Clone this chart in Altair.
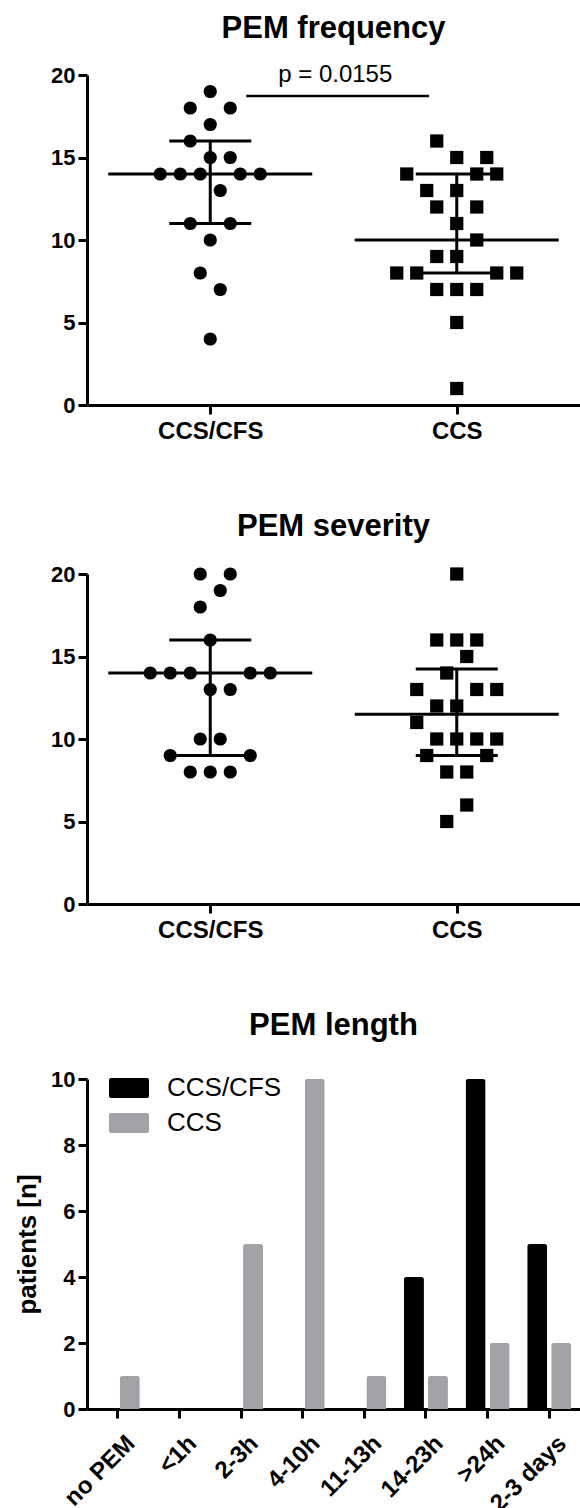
import altair as alt
import numpy as np
import pandas as pd

FONT = "Liberation Sans"

# ---------------- data ----------------
groups = ["CCS/CFS", "CCS"]

# PEM frequency (value, swarm slot in the beeswarm column)
freq_ccscfs_values = [19, 18, 18, 17, 16, 15, 15, 14, 14, 14, 14, 14, 13, 11, 11, 10, 8, 7, 4]
freq_ccscfs_slots = [0, -2, 2, 0, -2, 0, 2, -5, -3, -1, 3, 5, 1, -2, 2, 0, -1, 1, 0]
freq_ccs_values = [16, 15, 15, 14, 14, 14, 13, 13, 12, 12, 11, 10, 9, 9, 8, 8, 8, 8, 7, 7, 7, 5, 1]
freq_ccs_slots = [-2, 0, 3, -5, 2, 4, -3, 0, -2, 2, 0, 2, -2, 0, -6, -4, 4, 6, -2, 0, 2, 0, 0]
freq_p_text = "p = 0.0155"

# PEM severity
sev_ccscfs_values = [20, 20, 19, 18, 16, 14, 14, 14, 14, 14, 13, 13, 10, 10, 9, 9, 8, 8, 8]
sev_ccscfs_slots = [-1, 2, 1, -1, 0, -6, -4, -2, 4, 6, 0, 2, -1, 1, -4, 4, -2, 0, 2]
sev_ccs_values = [20, 16, 16, 16, 15, 14, 13, 13, 13, 12, 12, 11, 10, 10, 10, 10, 9, 9, 8, 8, 6, 5]
sev_ccs_slots = [0, -2, 0, 2, 1, -1, -4, 2, 4, -2, 0, -4, -2, 0, 2, 4, -3, 3, -1, 1, 1, -1]

# PEM length
length_categories = ["no PEM", "<1h", "2-3h", "4-10h", "11-13h", "14-23h", ">24h", "2-3 days"]
length_ccscfs = [0, 0, 0, 0, 0, 4, 10, 5]
length_ccs = [1, 0, 5, 10, 1, 1, 2, 2]

# ---------------- layout constants ----------------
PLOT_W = 493
PLOT_H = 330
UNIT_PX = PLOT_W / 2.0          # px per group unit on the scatter x scale
SLOT = 10 / UNIT_PX             # one swarm slot = 10 px
MED_HALF = 102 / UNIT_PX
CAP_HALF = 41 / UNIT_PX
TITLE_SIZE = 31
SWATCH = ("M-0.9,-0.5H0.9Q1,-0.5 1,-0.4V0.4Q1,0.5 0.9,0.5H-0.9"
          "Q-1,0.5 -1,0.4V-0.4Q-1,-0.5 -0.9,-0.5Z")


def swarm_df(va, sa, vb, sb):
    rows = []
    for gi, (vals, slots) in enumerate(((va, sa), (vb, sb))):
        for v, s in zip(vals, slots):
            rows.append({"group": groups[gi], "value": v, "xpos": gi + s * SLOT})
    return pd.DataFrame(rows)


def summary_df(va, vb):
    rows = []
    for gi, vals in enumerate((va, vb)):
        q1, med, q3 = np.percentile(vals, [25, 50, 75], method="weibull")
        rows.append({"x": gi - MED_HALF, "x2": gi + MED_HALF, "y": med, "y2": med})
        rows.append({"x": gi - CAP_HALF, "x2": gi + CAP_HALF, "y": q1, "y2": q1})
        rows.append({"x": gi - CAP_HALF, "x2": gi + CAP_HALF, "y": q3, "y2": q3})
        rows.append({"x": gi, "x2": gi, "y": q1, "y2": q3})
    return pd.DataFrame(rows)


def xenc(field):
    return alt.X(
        field,
        type="quantitative",
        scale=alt.Scale(domain=[-0.5, 1.5], nice=False, zero=False),
        axis=alt.Axis(
            values=[0, 1],
            labelExpr="datum.value == 0 ? 'CCS/CFS' : 'CCS'",
            title=None,
            tickSize=9,
            labelPadding=5,
            labelFontSize=24,
            labelFontWeight="bold",
            labelFlush=False,
        ),
    )


def yenc(field):
    return alt.Y(
        field,
        type="quantitative",
        scale=alt.Scale(domain=[0, 20], nice=False),
        axis=alt.Axis(
            values=[0, 5, 10, 15, 20],
            title=None,
            tickSize=9,
            labelPadding=3,
            labelFontSize=22,
            labelFontWeight="bold",
        ),
    )


def scatter_panel(title, va, sa, vb, sb, title_offset, p_text=None):
    pts = alt.Chart(swarm_df(va, sa, vb, sb)).mark_point(
        filled=True, size=175, opacity=1, color="black", strokeWidth=0
    ).encode(
        x=xenc("xpos"),
        y=yenc("value"),
        shape=alt.Shape(
            "group:N",
            scale=alt.Scale(domain=groups, range=["circle", "square"]),
            legend=None,
        ),
    )
    rules = alt.Chart(summary_df(va, vb)).mark_rule(color="black", strokeWidth=3).encode(
        x=xenc("x"), x2="x2", y=yenc("y"), y2="y2"
    )
    layers = [rules, pts]
    if p_text is not None:
        bracket = alt.Chart(pd.DataFrame([{"x": 0.146, "x2": 0.888, "y": 18.73}])).mark_rule(
            color="black", strokeWidth=2.5
        ).encode(x=xenc("x"), x2="x2", y=yenc("y"))
        ptxt = alt.Chart(pd.DataFrame([{"x": 0.507, "y": 19.6, "label": p_text}])).mark_text(
            font=FONT, fontSize=24, baseline="alphabetic", align="center", color="black"
        ).encode(x=xenc("x"), y=yenc("y"), text="label:N")
        layers += [bracket, ptxt]
    return alt.layer(*layers).properties(
        width=PLOT_W,
        height=PLOT_H,
        title=alt.TitleParams(
            title,
            font=FONT,
            fontSize=TITLE_SIZE,
            fontWeight="bold",
            anchor="middle",
            frame="group",
            baseline="alphabetic",
            offset=title_offset,
            color="black",
        ),
    )


freq_chart = scatter_panel(
    "PEM frequency", freq_ccscfs_values, freq_ccscfs_slots, freq_ccs_values, freq_ccs_slots,
    title_offset=-6, p_text=freq_p_text,
)
sev_chart = scatter_panel(
    "PEM severity", sev_ccscfs_values, sev_ccscfs_slots, sev_ccs_values, sev_ccs_slots,
    title_offset=-4,
)

len_rows = []
for cat, a, b in zip(length_categories, length_ccscfs, length_ccs):
    if a > 0:
        len_rows.append({"category": cat, "group": groups[0], "value": a})
    if b > 0:
        len_rows.append({"category": cat, "group": groups[1], "value": b})
len_df = pd.DataFrame(len_rows)

len_chart = alt.Chart(len_df).mark_bar(
    cornerRadiusTopLeft=2.5, cornerRadiusTopRight=2.5
).encode(
    x=alt.X(
        "category:N",
        sort=length_categories,
        scale=alt.Scale(domain=length_categories, paddingInner=0, paddingOuter=0),
        axis=alt.Axis(
            title=None,
            labelAngle=-45,
            tickSize=9,
            labelPadding=13,
            labelOffset=5,
            labelFontSize=24,
            labelFontWeight="bold",
        ),
    ),
    xOffset=alt.XOffset(
        "group:N",
        sort=groups,
        scale=alt.Scale(domain=groups, paddingInner=0.1667, paddingOuter=0.367),
    ),
    y=alt.Y(
        "value:Q",
        scale=alt.Scale(domain=[0, 10], nice=False),
        axis=alt.Axis(
            values=[0, 2, 4, 6, 8, 10],
            title="patients [n]",
            titleFontSize=26,
            titleFontWeight="bold",
            titlePadding=10,
            tickSize=9,
            labelPadding=3,
            labelFontSize=22,
            labelFontWeight="bold",
        ),
    ),
    color=alt.Color(
        "group:N",
        sort=groups,
        scale=alt.Scale(domain=groups, range=["#000000", "#a3a3a7"]),
        legend=alt.Legend(
            title=None,
            orient="none",
            legendX=22,
            legendY=-11,
            symbolType=SWATCH,
            symbolSize=1600,
            symbolStrokeWidth=0,
            symbolOpacity=1,
            labelFont=FONT,
            labelFontSize=26,
            labelColor="black",
            labelOffset=18,
            rowPadding=2,
            padding=0,
        ),
    ),
).properties(
    width=PLOT_W,
    height=PLOT_H,
    title=alt.TitleParams(
        "PEM length",
        font=FONT,
        fontSize=TITLE_SIZE,
        fontWeight="bold",
        anchor="middle",
        frame="group",
        baseline="alphabetic",
        offset=2,
        color="black",
    ),
)

chart = alt.vconcat(freq_chart, sev_chart, len_chart, spacing=68).resolve_scale(
    color="independent"
).resolve_legend(color="independent").properties(
    padding={"left": 14, "top": 12, "right": 0, "bottom": 0},
    background="white",
).configure_view(stroke=None).configure_axis(
    domainColor="black",
    domainWidth=3,
    tickColor="black",
    tickWidth=3,
    labelColor="black",
    titleColor="black",
    labelFont=FONT,
    titleFont=FONT,
    grid=False,
)

chart.save("out.html", embed_options={"renderer": "svg", "actions": False})
